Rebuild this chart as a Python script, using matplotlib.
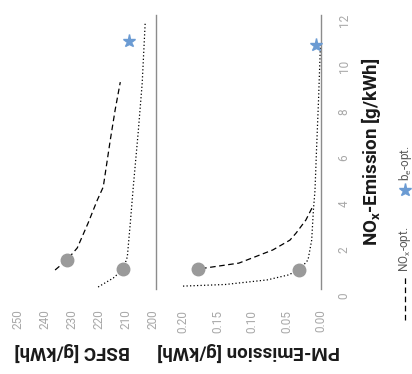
import numpy as np
import matplotlib
matplotlib.use('Agg')
import matplotlib.pyplot as plt
from matplotlib.lines import Line2D

plt.rcParams['font.family'] = ['Roboto', 'DejaVu Sans']
plt.rcParams['mathtext.default'] = 'regular'

# ---------------------------------------------------------------
# data
# BSFC panel
bsfc_noxopt_nox = [1.13, 1.57, 2.09, 3.17, 4.17, 4.74, 6.78, 8.09, 9.30]
bsfc_noxopt_val = [236.3, 231.9, 228.1, 224.1, 220.7, 218.5, 215.9, 214.1, 212.2]
bsfc_beopt_nox = [0.39, 0.78, 1.17, 1.70, 3.17, 4.74, 7.09, 9.26, 11.87]
bsfc_beopt_val = [220.4, 214.8, 211.1, 209.6, 208.5, 207.4, 205.6, 204.1, 203.0]
bsfc_circle_nox = [1.57, 1.17]
bsfc_circle_val = [231.9, 211.1]
bsfc_star_nox = [11.1]
bsfc_star_val = [208.9]

# PM panel
pm_noxopt_nox = [1.17, 1.17, 1.22, 1.43, 2.00, 2.43, 2.74, 3.30, 3.83]
pm_noxopt_val = [0.187, 0.178, 0.167, 0.119, 0.070, 0.045, 0.036, 0.022, 0.013]
pm_beopt_nox = [0.43, 0.50, 0.70, 0.91, 1.13, 1.57, 2.43, 3.74, 4.60, 6.35, 8.50, 11.04]
pm_beopt_val = [0.200, 0.139, 0.078, 0.048, 0.0314, 0.0188, 0.0135, 0.011, 0.0087, 0.0065, 0.0036, 0.0007]
pm_circle_nox = [1.17, 1.13]
pm_circle_val = [0.178, 0.0314]
pm_star_nox = [10.9]
pm_star_val = [0.0072]

bsfc_ticks = [200, 210, 220, 230, 240, 250]
pm_ticks = [0.00, 0.05, 0.10, 0.15, 0.20]
nox_ticks = [0, 2, 4, 6, 8, 10, 12]

# ---------------------------------------------------------------
W, H = 412, 374
fig = plt.figure(figsize=(W / 100, H / 100), dpi=100)


def fx(px):
    return px / W


def fy(py):
    return 1 - py / H


dash = (0, (4.5, 2.8))
dot = (0, (1.0, 1.8))
grey = '#9a9a9a'
blue = '#6b9bd3'
axcol = '#8c8c8c'
tickcol = '#a8a8a8'

ylo, yhi = (296 - 300) / 23, (296 - 15) / 23
ax1 = fig.add_axes([fx(8), fy(300), (156 - 8) / W, (300 - 15) / H])
ax2 = fig.add_axes([fx(172), fy(300), (321 - 172) / W, (300 - 15) / H])

for ax in (ax1, ax2):
    ax.set_facecolor('none')
    for s in ('left', 'top', 'bottom'):
        ax.spines[s].set_visible(False)
    ax.spines['right'].set_color(axcol)
    ax.spines['right'].set_linewidth(1.0)
    ax.spines['right'].set_bounds((296 - 289) / 23, yhi)
    ax.set_ylim(ylo, yhi)
    ax.tick_params(length=0)

# BSFC
ax1.plot(bsfc_noxopt_val, bsfc_noxopt_nox, color='black', lw=0.9, linestyle=dash, zorder=2)
ax1.plot(bsfc_beopt_val, bsfc_beopt_nox, color='black', lw=0.9, linestyle=dot, zorder=2)
ax1.plot(bsfc_circle_val, bsfc_circle_nox, 'o', color=grey, ms=9, zorder=3)
ax1.plot(bsfc_star_val, bsfc_star_nox, '*', color=blue, ms=9.5, zorder=3)
ax1.set_xlim(253.7, 199)
ax1.set_xticks(bsfc_ticks)
ax1.set_xticklabels([str(t) for t in bsfc_ticks], rotation=90, color=tickcol, fontsize=8.5)
ax1.tick_params(axis='x', pad=7)
ax1.set_yticks([])

# PM
ax2.plot(pm_noxopt_val, pm_noxopt_nox, color='black', lw=0.9, linestyle=dash, zorder=2)
ax2.plot(pm_beopt_val, pm_beopt_nox, color='black', lw=0.9, linestyle=dot, zorder=2)
ax2.plot(pm_circle_val, pm_circle_nox, 'o', color=grey, ms=9, zorder=3)
ax2.plot(pm_star_val, pm_star_nox, '*', color=blue, ms=9.5, zorder=3, clip_on=False)
ax2.set_xlim((321 - 172) / 690, 0)
ax2.set_xticks(pm_ticks)
ax2.set_xticklabels(['%.2f' % t for t in pm_ticks], rotation=90, color=tickcol, fontsize=8.5)
ax2.tick_params(axis='x', pad=7)
ax2.yaxis.tick_right()
ax2.set_yticks(nox_ticks)
ax2.set_yticklabels([str(t) for t in nox_ticks], rotation=90, color=tickcol, fontsize=8.5,
                    va='center')
ax2.tick_params(axis='y', pad=12)

# axis titles (chart is turned on its side)
lab = dict(fontsize=13.5, fontweight='bold', color='#1a1a1a', ha='center', va='center')
fig.text(fx(72), fy(352), 'BSFC [g/kWh]', rotation=180, **lab)
fig.text(fx(249), fy(352), 'PM-Emission [g/kWh]', rotation=180, **lab)
fig.text(fx(371), fy(152), 'NO$_x$-Emission [g/kWh]', rotation=90, **lab)

# legend
fig.add_artist(Line2D([fx(405), fx(405)], [fy(320), fy(275)], transform=fig.transFigure,
                      color='black', lw=0.9, linestyle=dash))
fig.text(fx(405), fy(249), 'NO$_x$-opt.', rotation=90, fontsize=8.5, color='#5a5a5a',
         ha='center', va='center')
fig.add_artist(Line2D([fx(405)], [fy(190)], transform=fig.transFigure, marker='*',
                      color=blue, ms=9.5, lw=0))
fig.text(fx(405), fy(163), 'b$_e$-opt.', rotation=90, fontsize=8.5, color='#5a5a5a',
         ha='center', va='center')

fig.savefig('out.png', dpi=100)
